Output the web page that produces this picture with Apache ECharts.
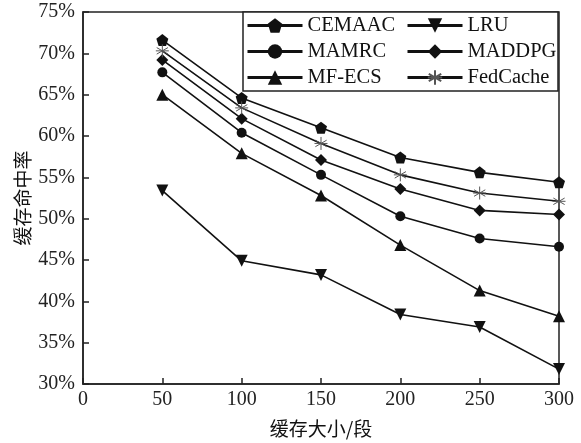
<!DOCTYPE html>
<html><head><meta charset="utf-8">
<script src="https://cdn.jsdelivr.net/npm/echarts@6/dist/echarts.min.js"></script>
<style>html,body{margin:0;padding:0;background:#fff}#c{width:581px;height:443px}</style>
</head><body><div id="c"></div>
<script>
const xValues = [50, 100, 150, 200, 250, 300];
const CEMAAC = [71.6, 64.6, 61.0, 57.4, 55.6, 54.4];
const LRU = [53.4, 44.9, 43.2, 38.4, 36.9, 31.8];
const MAMRC = [67.7, 60.4, 55.3, 50.3, 47.6, 46.6];
const MADDPG = [69.2, 62.1, 57.1, 53.6, 51.0, 50.5];
const MFECS = [65.0, 57.9, 52.8, 46.8, 41.3, 38.2];
const FedCache = [70.3, 63.4, 59.1, 55.3, 53.1, 52.1];
const yTicks = [30, 35, 40, 45, 50, 55, 60, 65, 70, 75];
const xTicks = [0, 50, 100, 150, 200, 250, 300];

const pentagon = 'path://M0,-10L9.51,-3.09L5.88,8.09L-5.88,8.09L-9.51,-3.09Z';
const star = 'path://M0,-10L0,10M-8.66,-5L8.66,5M-8.66,5L8.66,-5M-10,0L10,0';
const font = '"Liberation Serif","Times New Roman",serif';

function mk(name, vals, symbol, size, extra) {
  return Object.assign({
    name: name, type: 'line',
    data: xValues.map((x, i) => [x, vals[i]]),
    symbol: symbol, symbolSize: size,
    showAllSymbol: true,
    lineStyle: {color: '#111', width: 1.6},
    itemStyle: {color: '#111', borderColor: '#111', borderWidth: 0},
    clip: false, z: 3
  }, extra || {});
}

const series = [
  mk('CEMAAC', CEMAAC, pentagon, 12),
  mk('LRU', LRU, 'triangle', 12, {symbolRotate: 180}),
  mk('MAMRC', MAMRC, 'circle', 10),
  mk('MADDPG', MADDPG, 'diamond', 12),
  mk('MF-ECS', MFECS, 'triangle', 12),
  mk('FedCache', FedCache, star, 13, {itemStyle: {color: 'none', borderColor: '#555', borderWidth: 1}})
];

const chart = echarts.init(document.getElementById('c'), null, {renderer: 'canvas'});
const legendCommon = {
  orient: 'vertical', itemWidth: 55, itemHeight: 18, itemGap: 5,
  textStyle: {fontFamily: font, fontSize: 20.5, color: '#111'},
  lineStyle: {width: 3}, top: 15, padding: 0
};
chart.setOption({
  animation: false,
  backgroundColor: '#fff',
  grid: {left: 83, right: 22, top: 12, bottom: 48, show: true, borderColor: '#222', borderWidth: 1.5},
  graphic: [{type: 'rect', shape: {x: 243, y: 12, width: 315, height: 79}, style: {fill: '#fff', stroke: '#222', lineWidth: 1.5}, z: 10}],
  legend: [
    Object.assign({}, legendCommon, {data: ['CEMAAC', 'MAMRC', 'MF-ECS'], left: 246, z: 11}),
    Object.assign({}, legendCommon, {data: ['LRU', 'MADDPG', 'FedCache'], left: 406, z: 11})
  ],
  xAxis: {
    type: 'value', min: 0, max: 300, interval: 50,
    name: '缓存大小/段', nameLocation: 'middle', nameGap: 35,
    nameTextStyle: {fontFamily: '"Noto Sans CJK SC", serif', fontSize: 19, color: '#111'},
    axisLine: {lineStyle: {color: '#222', width: 1.5}},
    axisTick: {inside: true, length: 6, lineStyle: {color: '#222', width: 1.5}},
    axisLabel: {fontFamily: font, fontSize: 20, color: '#222', margin: 6},
    splitLine: {show: false}
  },
  yAxis: {
    type: 'value', min: 30, max: 75, interval: 5,
    name: '缓存命中率', nameLocation: 'middle', nameGap: 51, nameRotate: 90,
    nameMoveOverlap: false,
    nameTextStyle: {fontFamily: '"Noto Sans CJK SC", serif', fontSize: 19, color: '#111'},
    axisLine: {lineStyle: {color: '#222', width: 1.5}},
    axisTick: {inside: true, length: 6, lineStyle: {color: '#222', width: 1.5}},
    axisLabel: {fontFamily: font, fontSize: 20, color: '#222', margin: 8, formatter: v => v + '%'},
    splitLine: {show: false}
  },
  series: series
});
</script></body></html>
